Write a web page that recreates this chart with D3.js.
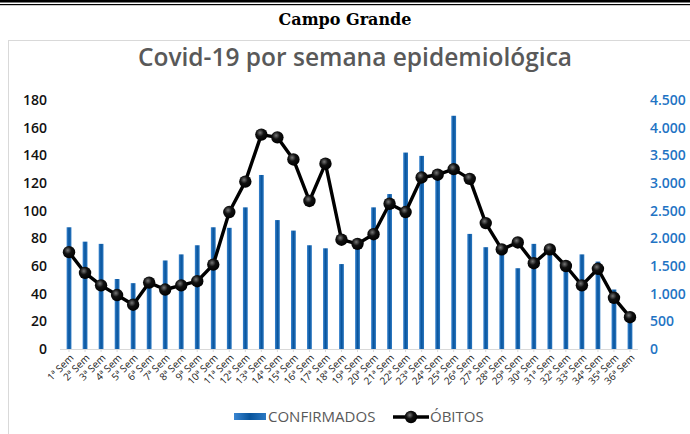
<html>
<head>
<meta charset="utf-8">
<script src="https://d3js.org/d3.v7.min.js"></script>
<style>
  body { margin: 0; background: #fff; }
  svg { display: block; }
</style>
</head>
<body>
<svg width="690" height="434"></svg>
<script>
// weeks 1..36
var semanas = ["1ª Sem","2ª Sem","3ª Sem","4ª Sem","5ª Sem","6ª Sem","7ª Sem","8ª Sem","9ª Sem","10ª Sem",
  "11ª Sem","12ª Sem","13ª Sem","14ª Sem","15ª Sem","16ª Sem","17ª Sem","18ª Sem","19ª Sem","20ª Sem",
  "21ª Sem","22ª Sem","23ª Sem","24ª Sem","25ª Sem","26ª Sem","27ª Sem","28ª Sem","29ª Sem","30ª Sem",
  "31ª Sem","32ª Sem","33ª Sem","34ª Sem","35ª Sem","36ª Sem"];

// bars, right axis
var confirmados = [2200,1940,1900,1265,1190,1125,1600,1710,1875,2200,
  2190,2560,3145,2330,2140,1875,1820,1535,1850,2560,
  2800,3550,3490,3150,4215,2080,1840,1750,1460,1900,
  1700,1450,1710,1580,1075,500];

// line, left axis
var obitos = [70,55,46,39,32,48,43,46,49,61,
  99,121,155,153,137,107,134,79,76,83,
  105,99,124,126,130,123,91,72,77,62,
  72,60,46,58,37,23];

var ticksEsq = [0,20,40,60,80,100,120,140,160,180];
var ticksDir = [0,500,1000,1500,2000,2500,3000,3500,4000,4500];

var svg = d3.select("svg");
var defs = svg.append("defs");

var grad = defs.append("linearGradient").attr("id", "barGrad")
  .attr("x1", "0%").attr("x2", "100%").attr("y1", "0%").attr("y2", "0%");
grad.append("stop").attr("offset", "0%").attr("stop-color", "#3a86d2");
grad.append("stop").attr("offset", "50%").attr("stop-color", "#08549c");
grad.append("stop").attr("offset", "100%").attr("stop-color", "#2b78c2");

var rg = defs.append("radialGradient").attr("id", "dotGrad")
  .attr("cx", "40%").attr("cy", "35%").attr("r", "65%");
rg.append("stop").attr("offset", "0%").attr("stop-color", "#777");
rg.append("stop").attr("offset", "45%").attr("stop-color", "#111");
rg.append("stop").attr("offset", "100%").attr("stop-color", "#000");

// top double rule
svg.append("rect").attr("x", 0).attr("y", 0).attr("width", 690).attr("height", 2.5).attr("fill", "#000");
svg.append("rect").attr("x", 0).attr("y", 4).attr("width", 690).attr("height", 1.2).attr("fill", "#000");

svg.append("text").attr("x", 345).attr("y", 25)
  .attr("text-anchor", "middle")
  .style("font-family", "'DejaVu Serif'").style("font-weight", "bold").style("font-size", "16px")
  .text("Campo Grande");

// chart frame
svg.append("rect").attr("x", 8.5).attr("y", 40.5).attr("width", 690).attr("height", 420)
  .attr("fill", "none").attr("stroke", "#d9d9d9");

svg.append("text").attr("x", 355).attr("y", 66)
  .attr("text-anchor", "middle")
  .style("font-family", "'Open Sans'").style("font-weight", "600").style("font-size", "24.5px")
  .attr("fill", "#595959")
  .text("Covid-19 por semana epidemiológica");

var x = d3.scaleBand().domain(semanas).range([61, 638]);
var yL = d3.scaleLinear().domain([0, 180]).range([349, 100]);
var yR = d3.scaleLinear().domain([0, 4500]).range([349, 100]);

// left axis
var axL = svg.append("g").attr("transform", "translate(55,0)")
  .call(d3.axisLeft(yL).tickValues(ticksEsq).tickSize(0).tickPadding(8));
axL.select(".domain").remove();
axL.selectAll("text").style("font-family", "'Open Sans'").style("font-weight", "600")
  .style("font-size", "14px").attr("fill", "#111");

// right axis
var axR = svg.append("g").attr("transform", "translate(642,0)")
  .call(d3.axisRight(yR).tickValues(ticksDir).tickSize(0).tickPadding(8)
    .tickFormat(function(d) { return d3.format(",")(d).replace(",", "."); }));
axR.select(".domain").remove();
axR.selectAll("text").style("font-family", "'Open Sans'").style("font-weight", "600")
  .style("font-size", "14px").attr("fill", "#1f74c4");

// baseline + x labels
var axB = svg.append("g").attr("transform", "translate(0,349)")
  .call(d3.axisBottom(x).tickSize(3).tickPadding(2));
axB.select(".domain").attr("stroke", "#d9d9d9").attr("d", "M60,0.5H638");
axB.selectAll(".tick line").attr("stroke", "#d9d9d9");
axB.selectAll("text")
  .style("font-family", "'Open Sans'").style("font-size", "10px").attr("fill", "#222")
  .style("text-anchor", "end")
  .attr("x", -3).attr("y", 7).attr("dy", "0.35em")
  .attr("transform", "rotate(-45)");

// bars
var bw = 4.8;
svg.append("g").selectAll("rect")
  .data(confirmados)
  .join("rect")
    .attr("x", function(d, i) { return x(semanas[i]) + x.bandwidth() / 2 - bw / 2; })
    .attr("y", function(d) { return yR(d); })
    .attr("width", bw)
    .attr("height", function(d) { return yR(0) - yR(d); })
    .attr("fill", "url(#barGrad)");

// line
var line = d3.line()
  .x(function(d, i) { return x(semanas[i]) + x.bandwidth() / 2; })
  .y(function(d) { return yL(d); });

svg.append("path").datum(obitos)
  .attr("d", line)
  .attr("fill", "none").attr("stroke", "#000").attr("stroke-width", 3.4)
  .attr("stroke-linejoin", "round");

svg.append("g").selectAll("circle")
  .data(obitos)
  .join("circle")
    .attr("cx", function(d, i) { return x(semanas[i]) + x.bandwidth() / 2; })
    .attr("cy", function(d) { return yL(d); })
    .attr("r", 6.2)
    .attr("fill", "url(#dotGrad)");

// legend
var leg = svg.append("g");
leg.append("rect").attr("x", 234).attr("y", 413).attr("width", 32).attr("height", 7)
  .attr("fill", "url(#barGrad)");
leg.append("text").attr("x", 268).attr("y", 422)
  .style("font-family", "'Open Sans'").style("font-size", "15px").attr("fill", "#595959")
  .text("CONFIRMADOS");
leg.append("line").attr("x1", 393).attr("x2", 429).attr("y1", 417).attr("y2", 417)
  .attr("stroke", "#000").attr("stroke-width", 3.4);
leg.append("circle").attr("cx", 411).attr("cy", 417).attr("r", 6.2).attr("fill", "url(#dotGrad)");
leg.append("text").attr("x", 430).attr("y", 422)
  .style("font-family", "'Open Sans'").style("font-size", "15px").attr("fill", "#595959")
  .text("ÓBITOS");
</script>
</body>
</html>
